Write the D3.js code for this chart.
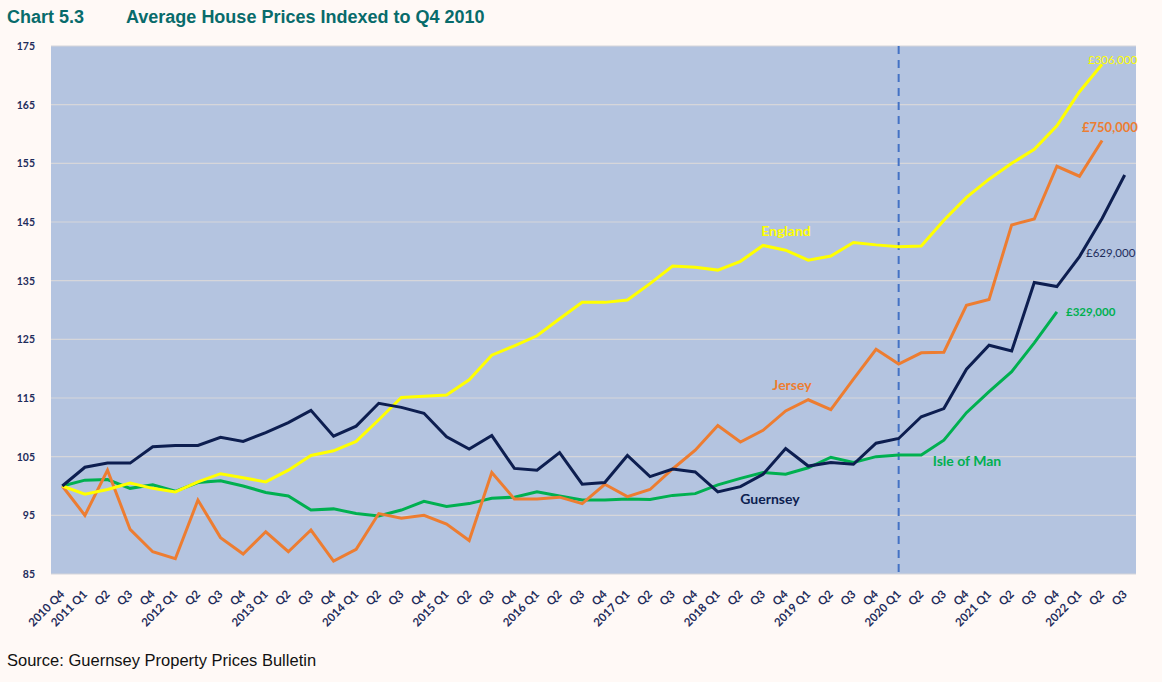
<!DOCTYPE html>
<html>
<head>
<meta charset="utf-8">
<script src="https://cdn.jsdelivr.net/npm/d3@7"></script>
<style>
  html, body { margin: 0; padding: 0; background: #FFF9F6; }
  svg { display: block; }
</style>
</head>
<body>
<svg id="chart" width="1162" height="682"></svg>
<script>
// ---- Data ----
const quarters = ["2010 Q4",
  "2011 Q1","Q2","Q3","Q4","2012 Q1","Q2","Q3","Q4","2013 Q1","Q2","Q3","Q4",
  "2014 Q1","Q2","Q3","Q4","2015 Q1","Q2","Q3","Q4","2016 Q1","Q2","Q3","Q4",
  "2017 Q1","Q2","Q3","Q4","2018 Q1","Q2","Q3","Q4","2019 Q1","Q2","Q3","Q4",
  "2020 Q1","Q2","Q3","Q4","2021 Q1","Q2","Q3","Q4","2022 Q1","Q2","Q3"];

const england = [100, 98.6, 99.4, 100.5, 99.6, 99.0, 100.7, 102.1, 101.4, 100.7, 102.7, 105.2, 106.0,
  107.6, 111.3, 115.1, 115.3, 115.5, 118.1, 122.3, 123.9, 125.6, 128.5, 131.3, 131.3,
  131.7, 134.5, 137.5, 137.3, 136.8, 138.3, 141.0, 140.2, 138.5, 139.2, 141.5, 141.1,
  140.8, 140.9, 145.3, 149.2, 152.3, 155.0, 157.4, 161.4, 167.2, 171.9];

const jersey = [100, 95.0, 102.7, 92.6, 88.8, 87.6, 97.6, 91.2, 88.4, 92.2, 88.8, 92.5, 87.2,
  89.2, 95.3, 94.5, 95.0, 93.5, 90.7, 102.3, 97.8, 97.8, 98.1, 97.0, 100.3,
  98.2, 99.4, 102.9, 106.1, 110.3, 107.5, 109.5, 112.8, 114.7, 113.0, 118.2, 123.3,
  120.8, 122.7, 122.8, 130.8, 131.8, 144.5, 145.5, 154.5, 152.8, 158.9];

const guernsey = [100, 103.2, 103.9, 103.9, 106.7, 106.9, 106.9, 108.3, 107.6, 109.1, 110.8, 112.9, 108.5,
  110.2, 114.1, 113.4, 112.4, 108.4, 106.3, 108.6, 103.0, 102.7, 105.7, 100.3, 100.6,
  105.2, 101.6, 102.9, 102.4, 99.0, 99.9, 102.0, 106.4, 103.4, 104.0, 103.7, 107.3,
  108.1, 111.8, 113.2, 119.9, 124.0, 123.0, 134.7, 134.0, 139.1, 145.6, 153.0];

const isleOfMan = [100, 101.0, 101.1, 99.6, 100.2, 99.1, 100.6, 100.9, 100.0, 98.9, 98.3, 95.9, 96.1,
  95.3, 94.9, 95.9, 97.4, 96.5, 97.0, 97.9, 98.1, 99.0, 98.3, 97.6, 97.6,
  97.8, 97.7, 98.4, 98.7, 100.2, 101.3, 102.3, 102.0, 103.1, 104.9, 104.0, 105.0,
  105.3, 105.3, 107.8, 112.5, 116.1, 119.5, 124.4, 129.7];

const yTicks = [85, 95, 105, 115, 125, 135, 145, 155, 165, 175];
const markerQuarter = 37; // 2020 Q1

// ---- Layout ----
const svg = d3.select("#chart");
const pLeft = 51, pRight = 1136, pTop = 46, pBottom = 574;
const fontChart = "Lato, 'Open Sans', sans-serif";
const navy = "#1F2D5C";

const x = d3.scaleBand().domain(d3.range(quarters.length)).range([pLeft, pRight]).padding(0);
const cx = i => x(i) + x.bandwidth() / 2;
const y = d3.scaleLinear().domain([85, 175]).range([pBottom, pTop]);

// Title
svg.append("text").attr("x", 7).attr("y", 23)
  .attr("font-family", "'Liberation Sans', Arial, sans-serif").attr("font-weight", "bold")
  .attr("font-size", 18).attr("fill", "#086B6B").text("Chart 5.3");
svg.append("text").attr("x", 126).attr("y", 23)
  .attr("font-family", "'Liberation Sans', Arial, sans-serif").attr("font-weight", "bold")
  .attr("font-size", 18).attr("fill", "#086B6B")
  .text("Average House Prices Indexed to Q4 2010");

// Plot background
svg.append("rect").attr("x", pLeft).attr("y", pTop).attr("width", pRight - pLeft).attr("height", pBottom - pTop)
  .attr("fill", "#B4C4E0");

// Gridlines
svg.append("g").selectAll("line").data(yTicks).join("line")
  .attr("x1", pLeft).attr("x2", pRight)
  .attr("y1", d => y(d)).attr("y2", d => y(d))
  .attr("stroke", "#D6D6DA").attr("stroke-width", 1.2);

// Y axis
const yAxis = d3.axisLeft(y).tickValues(yTicks).tickSize(0).tickPadding(16);
const gy = svg.append("g").attr("transform", `translate(${pLeft},0)`).call(yAxis);
gy.select(".domain").remove();
gy.selectAll("text").attr("font-family", fontChart).attr("font-weight", "bold")
  .attr("font-size", 10.5).attr("fill", navy);

// X axis
const xAxis = d3.axisBottom(x).tickFormat(i => quarters[i]).tickSize(0);
const gx = svg.append("g").attr("transform", `translate(0,${pBottom})`).call(xAxis);
gx.select(".domain").remove();
gx.selectAll("text")
  .attr("font-family", fontChart).attr("font-weight", "bold")
  .attr("font-size", 11.5).attr("fill", navy)
  .attr("text-anchor", "end")
  .attr("dy", 0).attr("y", 0)
  .attr("transform", "translate(3,21) rotate(-45)");

// Dashed marker line
svg.append("line")
  .attr("x1", cx(markerQuarter)).attr("x2", cx(markerQuarter))
  .attr("y1", pTop).attr("y2", pBottom)
  .attr("stroke", "#4472C4").attr("stroke-width", 2).attr("stroke-dasharray", "8,6");

// Lines
const line = d3.line().x((d, i) => cx(i)).y(d => y(d));
const series = [
  { data: isleOfMan, color: "#00B050" },
  { data: jersey, color: "#ED7D31" },
  { data: england, color: "#FFFF00" },
  { data: guernsey, color: "#0D1E50" }
];
svg.append("g").selectAll("path").data(series).join("path")
  .attr("d", s => line(s.data))
  .attr("fill", "none").attr("stroke", s => s.color)
  .attr("stroke-width", 3).attr("stroke-linejoin", "miter");

// Series labels
const labels = [
  { t: "England", x: 786, y: 236, c: "#FFFF00", w: "bold", s: 14, a: "middle" },
  { t: "Jersey", x: 792, y: 390, c: "#ED7D31", w: "bold", s: 14, a: "middle" },
  { t: "Guernsey", x: 770, y: 504, c: "#0D1E50", w: "bold", s: 14, a: "middle" },
  { t: "Isle of Man", x: 967, y: 466, c: "#00B050", w: "bold", s: 14, a: "middle" },
  { t: "£306,000", x: 1088, y: 64, c: "#FFFF00", w: "normal", s: 11.5, a: "start" },
  { t: "£750,000", x: 1082, y: 132, c: "#ED7D31", w: "bold", s: 13, a: "start" },
  { t: "£629,000", x: 1086, y: 257, c: "#1F2D5C", w: "normal", s: 11.5, a: "start" },
  { t: "£329,000", x: 1066, y: 316, c: "#00B050", w: "bold", s: 11.5, a: "start" }
];
svg.append("g").selectAll("text").data(labels).join("text")
  .attr("x", d => d.x).attr("y", d => d.y)
  .attr("text-anchor", d => d.a)
  .attr("font-family", fontChart).attr("font-weight", d => d.w)
  .attr("font-size", d => d.s).attr("fill", d => d.c)
  .text(d => d.t);

// Source
svg.append("text").attr("x", 7).attr("y", 666)
  .attr("font-family", "'Liberation Sans', Arial, sans-serif")
  .attr("font-size", 16.5).attr("fill", "#111")
  .text("Source: Guernsey Property Prices Bulletin");
</script>
</body>
</html>
